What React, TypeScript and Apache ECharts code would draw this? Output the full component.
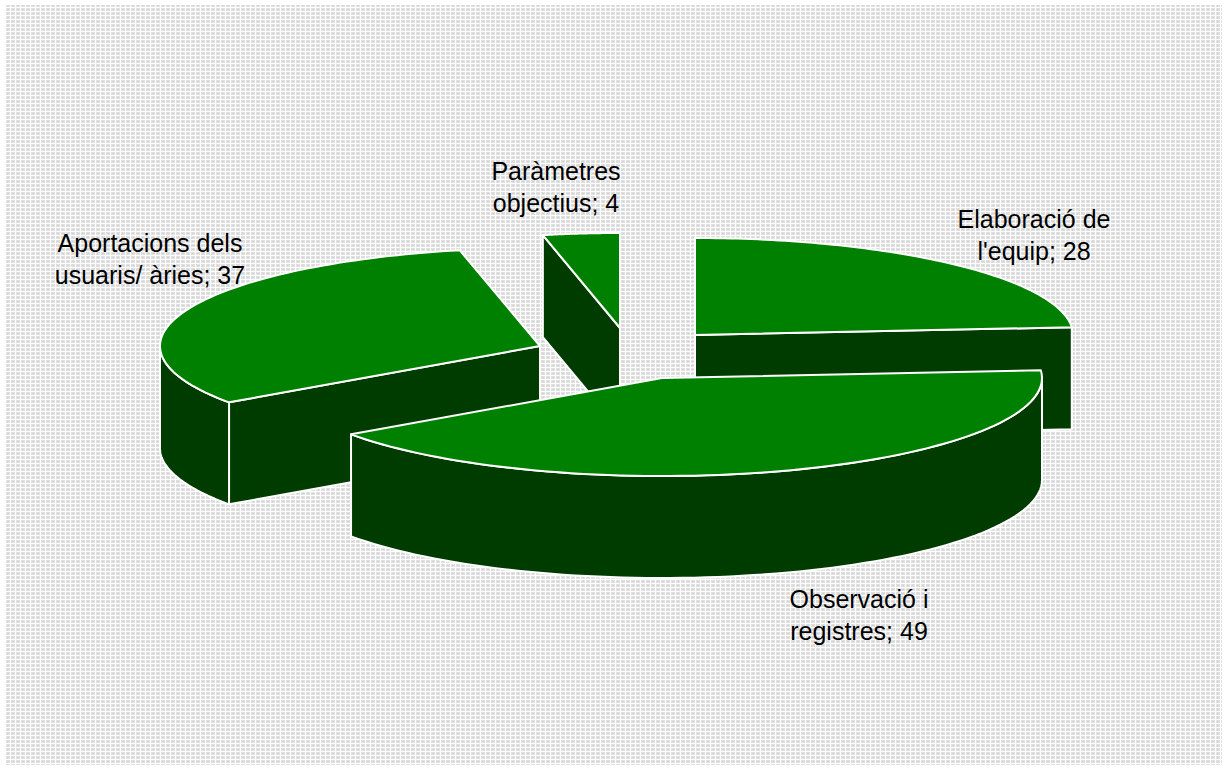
import React, { useEffect, useRef } from "react";
import * as echarts from "echarts";

const categories = ["Elaboració de\nl'equip; 28", "Observació i\nregistres; 49", "Aportacions dels\nusuaris/ àries; 37", "Paràmetres\nobjectius; 4"];
const values = [28, 49, 37, 4];

const apexes = [[695, 335], [662, 378], [540, 346], [620, 328]];
const radiiX = [378, 380, 380, 365];
const radiiY = [97, 98, 98, 95];
const labelPos = [[1034, 235], [859, 615], [150, 259], [556, 187]];
const layer = [1, 3, 2, 1];
const DEPTH = 102;
const TOP = "#008000";
const SIDE = "#003c00";

function makeTile() {
  const c = document.createElement("canvas");
  c.width = 5;
  c.height = 4;
  const g = c.getContext("2d")!;
  g.fillStyle = "#e0e0e0";
  g.fillRect(0, 0, 5, 4);
  g.fillStyle = "#ffffff";
  g.fillRect(0, 0, 1, 4);
  g.fillRect(0, 3, 5, 1);
  g.fillStyle = "#d4d4d4";
  g.fillRect(2, 1, 2, 1);
  return c;
}

export default function App() {
  const ref = useRef<HTMLDivElement>(null);
  useEffect(() => {
    const chart = echarts.init(ref.current!, undefined, { renderer: "svg" });
    const total = values.reduce((a, b) => a + b, 0);
    const renderItem = (params: any, api: any) => {
      const i = params.dataIndex;
      const before = values.slice(0, i).reduce((a, b) => a + b, 0);
      const t1 = (before / total) * Math.PI * 2;
      const t2 = ((before + api.value(0)) / total) * Math.PI * 2;
      const [cx, cy] = apexes[i];
      const pt = (t: number): number[] => [cx + radiiX[i] * Math.sin(t), cy - radiiY[i] * Math.cos(t)];
      const down = (p: number[]): number[] => [p[0], p[1] + DEPTH];
      const z = layer[i] * 10;
      const style = (fill: string) => ({ fill, stroke: "#ffffff", lineWidth: 2, lineJoin: "round" });
      const children: any[] = [];
      const arc: number[][] = [];
      const n = 80;
      for (let k = 0; k <= n; k++) arc.push(pt(t1 + ((t2 - t1) * k) / n));
      // outer rim: only the part facing the viewer
      const a = Math.max(t1, Math.PI / 2);
      const b = Math.min(t2, (Math.PI * 3) / 2);
      if (b > a) {
        const rim: number[][] = [];
        for (let k = 0; k <= n; k++) rim.push(pt(a + ((b - a) * k) / n));
        children.push({ type: "polygon", z2: z + 1, shape: { points: [...rim, ...rim.slice().reverse().map(down)] }, style: style(SIDE) });
      }
      // radial face that looks towards the viewer
      if (i !== 1) {
        const t = i === 0 ? t2 : t1;
        const e = pt(t);
        children.push({
          type: "polygon",
          z2: z,
          shape: { points: [[cx, cy], e, down(e), [cx, cy + DEPTH]] },
          style: style(SIDE),
        });
      }
      children.push({ type: "polygon", z2: z + 2, shape: { points: [[cx, cy], ...arc] }, style: style(TOP) });
      children.push({
        type: "text",
        z2: 100,
        x: labelPos[i][0],
        y: labelPos[i][1],
        style: {
          text: categories[i],
          fill: "#000000",
          font: "25px 'Liberation Sans', Arial, sans-serif",
          align: "center",
          verticalAlign: "middle",
          lineHeight: 32,
        },
      });
      return { type: "group", children };
    };
    chart.setOption({
      animation: false,
      graphic: [
        {
          type: "rect",
          z: -1,
          shape: { x: 5, y: 5, width: 1217, height: 760 },
          style: { fill: { image: makeTile(), repeat: "repeat" } as any },
        },
      ],
      series: [
        {
          type: "custom",
          coordinateSystem: "none",
          renderItem,
          data: values.map((v, i) => ({ value: [v], name: categories[i] })),
        },
      ],
    });
    return () => chart.dispose();
  }, []);
  return <div ref={ref} style={{ position: "absolute", left: 0, top: 0, width: 1226, height: 769 }} />;
}
